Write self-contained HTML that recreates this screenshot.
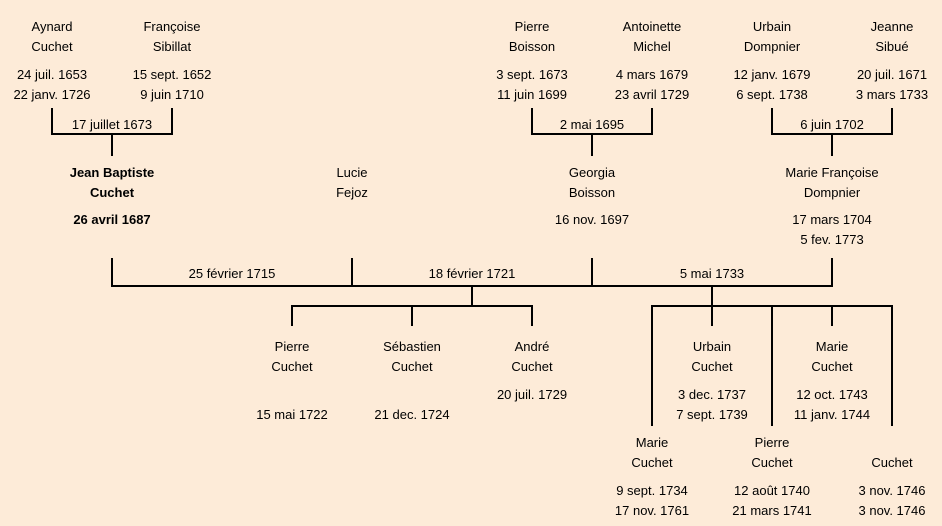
<!DOCTYPE html>
<html><head><meta charset="utf-8"><style>
html,body{margin:0;padding:0}
body{width:942px;height:526px;background:#FDEBD8;position:relative;overflow:hidden;font-family:"Liberation Sans","DejaVu Sans",sans-serif;font-size:13px;color:#000}
.t{position:absolute;width:180px;text-align:center;line-height:16px;white-space:nowrap}
.b{font-weight:bold}
svg{position:absolute;left:0;top:0}
</style></head><body>
<svg width="942" height="526" stroke="#000" stroke-width="2" fill="none">
<path d="M52 108V134H172V108M112 134V156"/>
<path d="M532 108V134H652V108M592 134V156"/>
<path d="M772 108V134H892V108M832 134V156"/>
<path d="M112 258V286H832V258M352 258V286M592 258V286"/>
<path d="M472 286V306M292 326V306H532V326M412 306V326"/>
<path d="M712 286V326M652 426V306H892V426M772 306V426M832 306V326"/>
</svg>
<div class="t" style="left:-38px;top:19px">Aynard</div><div class="t" style="left:-38px;top:39px">Cuchet</div>
<div class="t" style="left:-38px;top:67px">24 juil. 1653</div><div class="t" style="left:-38px;top:87px">22 janv. 1726</div>
<div class="t" style="left:82px;top:19px">Françoise</div><div class="t" style="left:82px;top:39px">Sibillat</div>
<div class="t" style="left:82px;top:67px">15 sept. 1652</div><div class="t" style="left:82px;top:87px">9 juin 1710</div>
<div class="t" style="left:442px;top:19px">Pierre</div><div class="t" style="left:442px;top:39px">Boisson</div>
<div class="t" style="left:442px;top:67px">3 sept. 1673</div><div class="t" style="left:442px;top:87px">11 juin 1699</div>
<div class="t" style="left:562px;top:19px">Antoinette</div><div class="t" style="left:562px;top:39px">Michel</div>
<div class="t" style="left:562px;top:67px">4 mars 1679</div><div class="t" style="left:562px;top:87px">23 avril 1729</div>
<div class="t" style="left:682px;top:19px">Urbain</div><div class="t" style="left:682px;top:39px">Dompnier</div>
<div class="t" style="left:682px;top:67px">12 janv. 1679</div><div class="t" style="left:682px;top:87px">6 sept. 1738</div>
<div class="t" style="left:802px;top:19px">Jeanne</div><div class="t" style="left:802px;top:39px">Sibué</div>
<div class="t" style="left:802px;top:67px">20 juil. 1671</div><div class="t" style="left:802px;top:87px">3 mars 1733</div>
<div class="t" style="left:22px;top:117px">17 juillet 1673</div>
<div class="t" style="left:502px;top:117px">2 mai 1695</div>
<div class="t" style="left:742px;top:117px">6 juin 1702</div>
<div class="t b" style="left:22px;top:165px">Jean Baptiste</div><div class="t b" style="left:22px;top:185px">Cuchet</div>
<div class="t b" style="left:22px;top:212px">26 avril 1687</div>
<div class="t" style="left:262px;top:165px">Lucie</div><div class="t" style="left:262px;top:185px">Fejoz</div>
<div class="t" style="left:502px;top:165px">Georgia</div><div class="t" style="left:502px;top:185px">Boisson</div>
<div class="t" style="left:502px;top:212px">16 nov. 1697</div>
<div class="t" style="left:742px;top:165px">Marie Françoise</div><div class="t" style="left:742px;top:185px">Dompnier</div>
<div class="t" style="left:742px;top:212px">17 mars 1704</div><div class="t" style="left:742px;top:232px">5 fev. 1773</div>
<div class="t" style="left:142px;top:266px">25 février 1715</div>
<div class="t" style="left:382px;top:266px">18 février 1721</div>
<div class="t" style="left:622px;top:266px">5 mai 1733</div>
<div class="t" style="left:202px;top:339px">Pierre</div><div class="t" style="left:202px;top:359px">Cuchet</div>
<div class="t" style="left:202px;top:407px">15 mai 1722</div>
<div class="t" style="left:322px;top:339px">Sébastien</div><div class="t" style="left:322px;top:359px">Cuchet</div>
<div class="t" style="left:322px;top:407px">21 dec. 1724</div>
<div class="t" style="left:442px;top:339px">André</div><div class="t" style="left:442px;top:359px">Cuchet</div>
<div class="t" style="left:442px;top:387px">20 juil. 1729</div>
<div class="t" style="left:622px;top:339px">Urbain</div><div class="t" style="left:622px;top:359px">Cuchet</div>
<div class="t" style="left:622px;top:387px">3 dec. 1737</div><div class="t" style="left:622px;top:407px">7 sept. 1739</div>
<div class="t" style="left:742px;top:339px">Marie</div><div class="t" style="left:742px;top:359px">Cuchet</div>
<div class="t" style="left:742px;top:387px">12 oct. 1743</div><div class="t" style="left:742px;top:407px">11 janv. 1744</div>
<div class="t" style="left:562px;top:435px">Marie</div><div class="t" style="left:562px;top:455px">Cuchet</div>
<div class="t" style="left:562px;top:483px">9 sept. 1734</div><div class="t" style="left:562px;top:503px">17 nov. 1761</div>
<div class="t" style="left:682px;top:435px">Pierre</div><div class="t" style="left:682px;top:455px">Cuchet</div>
<div class="t" style="left:682px;top:483px">12 août 1740</div><div class="t" style="left:682px;top:503px">21 mars 1741</div>
<div class="t" style="left:802px;top:455px">Cuchet</div>
<div class="t" style="left:802px;top:483px">3 nov. 1746</div><div class="t" style="left:802px;top:503px">3 nov. 1746</div>
</body></html>
